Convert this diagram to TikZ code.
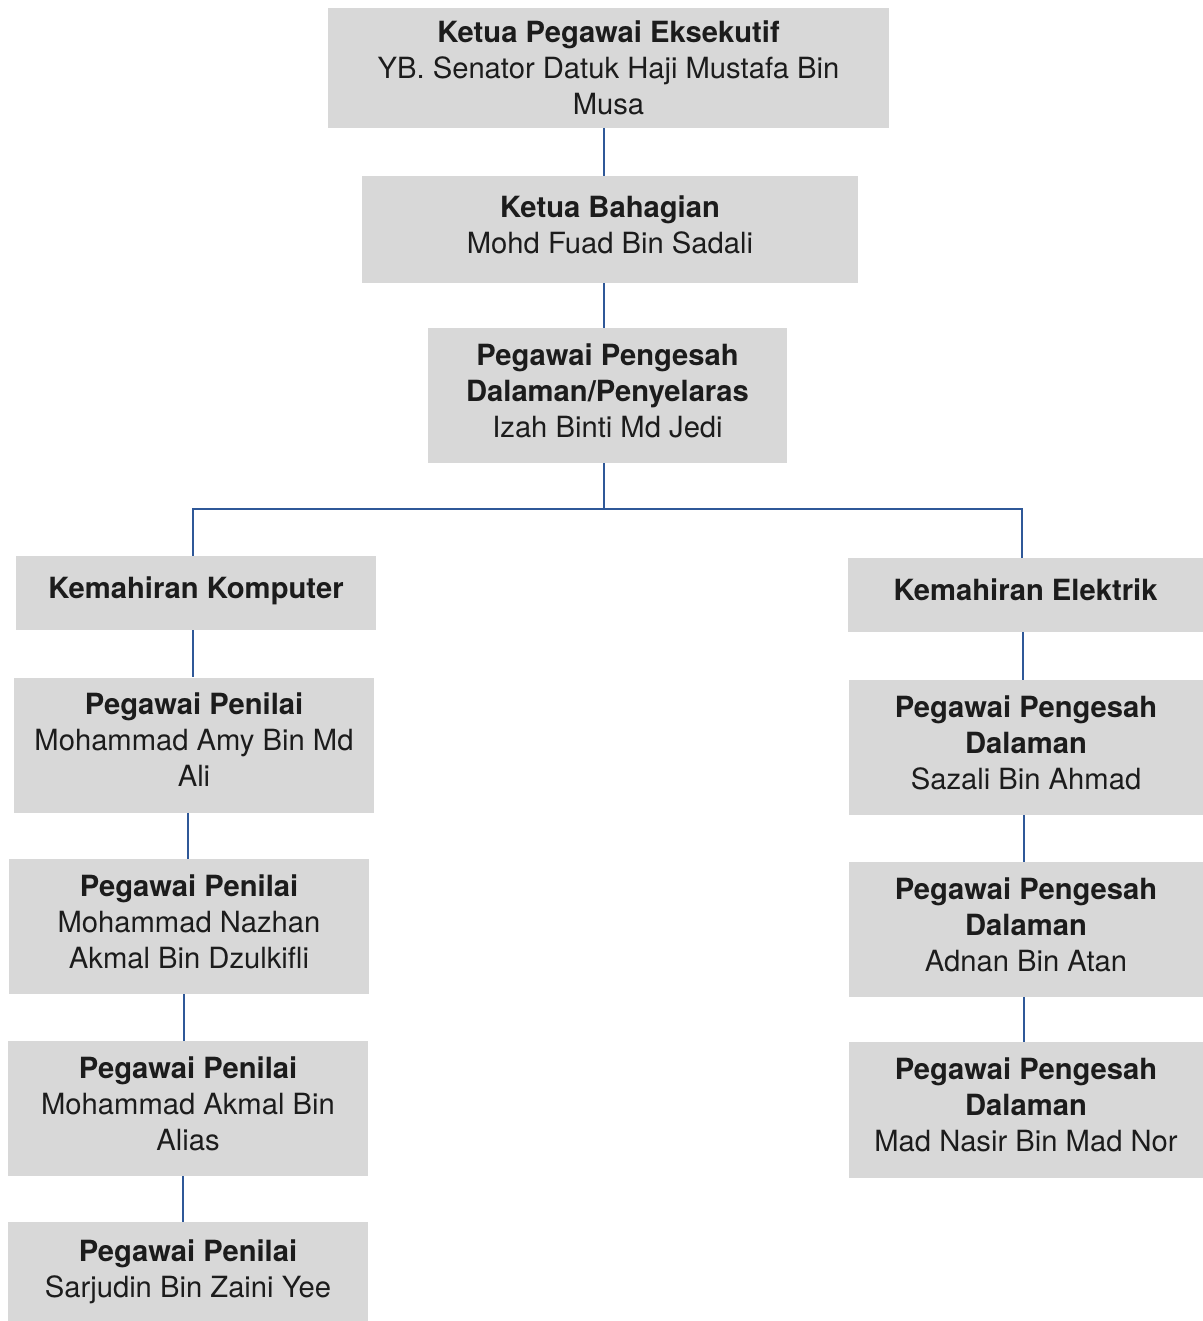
\documentclass[tikz,border=0pt]{standalone}
\usepackage{fontspec}
\setmainfont{TeX Gyre Heros}
\usetikzlibrary{calc}
\usetikzlibrary{positioning}
\definecolor{boxgray}{RGB}{216,216,216}
\definecolor{linkblue}{RGB}{47,88,152}
\definecolor{inkgray}{RGB}{28,28,28}
\begin{document}
\begin{tikzpicture}
    [%
        x=0.5pt,%
        y=-0.5pt,%
        every node/.style={%
            font=\fontsize{14.6}{18}\selectfont,%
            text=inkgray,%
            align=center,%
            inner sep=0pt,%
            execute at end node={\rule[-5pt]{0pt}{0pt}}% lift text a bit
        },%
        office/.style={%
            fill=boxgray,%
            minimum width=#1*0.5pt%
        },%
        office/.default=360,%
        tall/.style={minimum height=135*0.5pt},%
        link/.style={%
            draw=linkblue,%
            line width=0.75pt%
        }%
    ]%
%
    \useasboundingbox[fill=white] (0,0) rectangle (1203,1321);
    \begin{scope}
    \clip (0,0) rectangle (1203,1321);
%
    \node[office=561,minimum height=60pt,text depth=0pt] (ceo) at (608.5,68)
        {\textbf{Ketua Pegawai Eksekutif}\\YB. Senator Datuk Haji Mustafa Bin\\Musa};
    \node[office=496,minimum height=53.5pt] (bahagian) at (610,229.5)
        {\textbf{Ketua Bahagian}\\Mohd Fuad Bin Sadali};
    \node[office=359,tall] (penyelaras) at (607.5,395.5)
        {\textbf{Pegawai Pengesah}\\\textbf{Dalaman/Penyelaras}\\Izah Binti Md Jedi};
%
    \node[office,minimum height=37pt] (komputer) at (196,593)
        {\textbf{Kemahiran Komputer}};
    \node[office=355,minimum height=37pt] (elektrik) at (1025.5,595)
        {\textbf{Kemahiran Elektrik}};
%
    % left column
    \node[office,tall] (amy) at (194,745)
        {\textbf{Pegawai Penilai}\\Mohammad Amy Bin Md\\Ali};
    \node[office,tall] (nazhan) at (189,926.5)
        {\textbf{Pegawai Penilai}\\Mohammad Nazhan\\Akmal Bin Dzulkifli};
    \node[office,tall] (akmal) at (188,1108.5)
        {\textbf{Pegawai Penilai}\\Mohammad Akmal Bin\\Alias};
    \node[office,minimum height=52pt] (sarjudin) at (188,1274)
        {\textbf{Pegawai Penilai}\\Sarjudin Bin Zaini Yee};
%
    % right column
    \node[office=354,tall] (sazali) at (1026,747.5)
        {\textbf{Pegawai Pengesah}\\\textbf{Dalaman}\\Sazali Bin Ahmad};
    \node[office=354,tall] (adnan) at (1026,929.5)
        {\textbf{Pegawai Pengesah}\\\textbf{Dalaman}\\Adnan Bin Atan};
    \node[office=354,minimum height=68pt] (nasir) at (1026,1110)
        {\textbf{Pegawai Pengesah}\\\textbf{Dalaman}\\Mad Nasir Bin Mad Nor};
    \end{scope}
%
    \coordinate (split) at (604,509);
    \draw[link] (ceo.south -| split) -- (bahagian.north -| split);
    \draw[link] (bahagian.south -| split) -- (penyelaras.north -| split);
    \draw[link] (penyelaras.south -| split) -- (split);
    \draw[link] (split) -| ($(komputer.north)+(-3,0)$);
    \draw[link] (split) -| ($(elektrik.north)+(-3.5,0)$);
    \foreach \a/\b/\x in {%
        komputer/amy/193,%
        amy/nazhan/188,%
        nazhan/akmal/184,%
        akmal/sarjudin/183,%
        elektrik/sazali/1023,%
        sazali/adnan/1024,%
        adnan/nasir/1024%
    }%
        \draw[link] (\x,0 |- \a.south) -- (\x,0 |- \b.north);
\end{tikzpicture}
\end{document}
